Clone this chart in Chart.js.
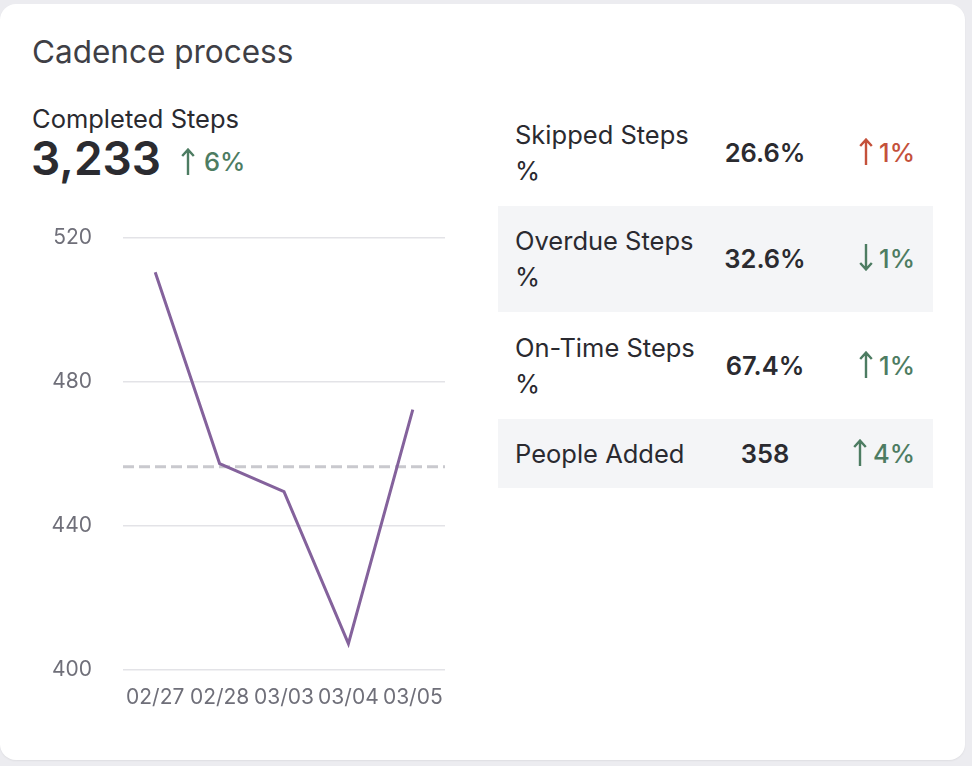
<!DOCTYPE html>
<html>
<head>
<meta charset="utf-8">
<script src="https://cdn.jsdelivr.net/npm/chart.js@4/dist/chart.umd.min.js"></script>
<style>
  html, body { margin: 0; padding: 0; }
  body { width: 972px; height: 766px; background: #ececf0; position: relative; overflow: hidden; font-family: Inter, "Noto Sans", sans-serif; }
  .card { position: absolute; left: 0; top: 4px; width: 965px; height: 756px; background: #fff; border-radius: 16px; box-shadow: 0 1px 2px rgba(0,0,0,0.06); }
  .abs { position: absolute; white-space: nowrap; line-height: 1; }
  #title { left: 32px; top: 36px; font-size: 31.5px; color: #3f3f46; font-weight: 400; }
  #kpiLabel { left: 32px; top: 106px; font-size: 25.5px; color: #2a2a30; }
  #kpiValue { left: 31px; top: 135px; font-size: 46px; font-weight: 600; color: #2b2b30; }
  #kpiChange { position: absolute; left: 181px; top: 148px; height: 27px; display: flex; align-items: center; font-size: 25.5px; line-height: 27px; font-weight: 500; color: #4d7c62; white-space: nowrap; }
  .row { position: absolute; left: 498px; width: 435px; }
  .row.alt { background: #f4f5f7; }
  .cell { position: absolute; top: 0; bottom: 0; display: flex; align-items: center; font-size: 25.5px; line-height: 36px; }
  .lab { left: 17px; width: 190px; color: #2a2a30; white-space: normal; }
  .val { left: 209px; width: 116px; justify-content: center; font-weight: 600; color: #2b2b30; }
  .chg { right: 18px; justify-content: flex-end; font-weight: 500; white-space: nowrap; }
  .up-bad { color: #c4513b; }
  .good { color: #4d7c62; }
  .arr { display: block; margin-right: 6px; margin-bottom: 3px; }
  #chartBox { position: absolute; left: 0; top: 200px; width: 460px; height: 540px; }
  #chartBox canvas { display: block; }
</style>
</head>
<body>
<div class="card"></div>
<div class="abs" id="title">Cadence process</div>
<div class="abs" id="kpiLabel">Completed Steps</div>
<div class="abs" id="kpiValue">3,233</div>
<div id="kpiChange"></div>
<div id="table"></div>
<div id="chartBox"><canvas id="c" width="460" height="540"></canvas></div>
<script>
// ---- data ----
const dateLabels = ['02/27', '02/28', '03/03', '03/04', '03/05'];
const completedSteps = [510.4, 457.3, 449.5, 407.3, 472.3];
const averageLine = [456.4, 456.4];
const yTicks = [400, 440, 480, 520];

const kpiChangeText = '6%';
const metricNames = ['Skipped Steps %', 'Overdue Steps %', 'On-Time Steps %', 'People Added'];
const metricValues = ['26.6%', '32.6%', '67.4%', '358'];
const metricChanges = ['1%', '1%', '1%', '4%'];
const metricDirections = ['up', 'down', 'up', 'up'];
const metricTone = ['bad', 'good', 'good', 'good'];

function arrowSvg(dir, h) {
  const w = 14;
  const path = dir === 'up'
    ? `M7 1.6 L7 ${h} M1.2 8 L7 1.6 L12.8 8`
    : `M7 0 L7 ${h - 1.6} M1.2 ${h - 8} L7 ${h - 1.6} L12.8 ${h - 8}`;
  return `<svg class="arr" width="${w}" height="${h}" viewBox="0 0 ${w} ${h}"><path d="${path}" fill="none" stroke="currentColor" stroke-width="2.4" stroke-linecap="butt" stroke-linejoin="miter"/></svg>`;
}

document.getElementById('kpiChange').innerHTML = arrowSvg('up', 27).replace('class="arr"', 'class="arr" style="margin-bottom:0;margin-right:9px"') + '<span>' + kpiChangeText + '</span>';

// ---- table ----
const rowTops = [100, 206, 312, 419];
const rowHeights = [106, 106, 107, 69];
const table = document.getElementById('table');
metricNames.forEach((name, i) => {
  const r = document.createElement('div');
  r.className = 'row' + (i % 2 === 1 ? ' alt' : '');
  r.style.top = rowTops[i] + 'px';
  r.style.height = rowHeights[i] + 'px';
  const lab = document.createElement('div');
  lab.className = 'cell lab';
  lab.textContent = name;
  const val = document.createElement('div');
  val.className = 'cell val';
  val.textContent = metricValues[i];
  const chg = document.createElement('div');
  chg.className = 'cell chg ' + (metricTone[i] === 'bad' ? 'up-bad' : 'good');
  chg.innerHTML = arrowSvg(metricDirections[i], 27) + '<span>' + metricChanges[i] + '</span>';
  r.appendChild(lab); r.appendChild(val); r.appendChild(chg);
  table.appendChild(r);
});

// ---- chart ----
const tickFont = { family: 'Inter', size: 21 };
new Chart(document.getElementById('c'), {
  type: 'line',
  data: {
    labels: dateLabels,
    datasets: [
      {
        data: completedSteps,
        borderColor: '#84629c',
        borderWidth: 3,
        pointRadius: 0,
        tension: 0,
        fill: false,
        xAxisID: 'x',
        order: 0
      },
      {
        data: averageLine.map((v, i) => ({ x: i, y: v })),
        borderColor: '#c9c9ce',
        borderWidth: 3,
        borderDash: [11, 5],
        pointRadius: 0,
        fill: false,
        xAxisID: 'x2',
        order: 1
      }
    ]
  },
  options: {
    responsive: false,
    animation: false,
    plugins: { legend: { display: false }, tooltip: { enabled: false } },
    layout: { padding: { top: 37.7, right: 15, bottom: 0, left: 0 } },
    scales: {
      x: {
        type: 'category',
        offset: true,
        grid: { display: false, drawTicks: false },
        border: { display: false },
        ticks: { font: tickFont, color: '#6f6f79', padding: 15, maxRotation: 0, autoSkip: false },
        afterFit: s => { s.height = 70; s.paddingLeft = 0; s.paddingRight = 0; }
      },
      x2: {
        type: 'linear',
        min: 0,
        max: 1,
        display: false
      },
      y: {
        min: 400,
        max: 520,
        afterBuildTicks: s => { s.ticks = yTicks.map(v => ({ value: v })); },
        grid: { color: '#e3e3e7', lineWidth: 1.5, drawTicks: false },
        border: { display: false },
        ticks: { font: tickFont, color: '#6f6f79', padding: 31 },
        afterFit: s => { s.width = 123; s.paddingTop = 0; s.paddingBottom = 0; }
      }
    }
  }
});
</script>
</body>
</html>
